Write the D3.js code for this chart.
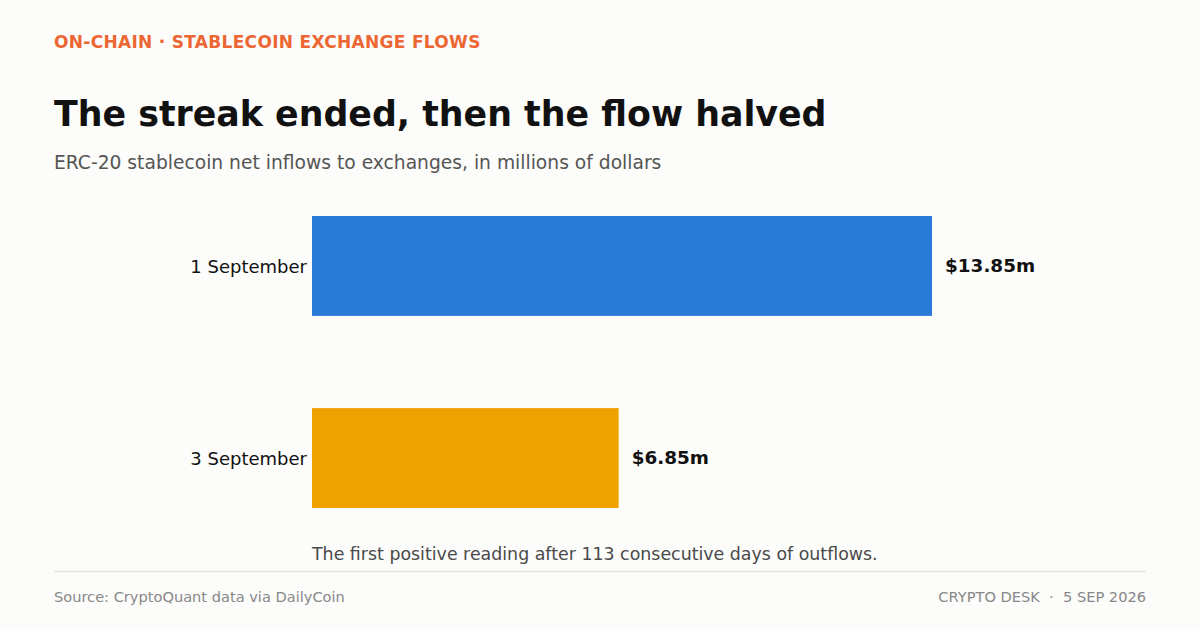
<!DOCTYPE html>
<html>
<head>
<meta charset="utf-8">
<script src="https://cdn.jsdelivr.net/npm/d3@7"></script>
<style>
  html, body { margin: 0; padding: 0; background: #fcfcfa; }
  svg { display: block; font-family: "DejaVu Sans", sans-serif; }
</style>
</head>
<body>
<svg id="chart" width="1200" height="630"></svg>
<script>
const categories = ["1 September", "3 September"];
const values = [13.85, 6.85];
const valueLabels = ["$13.85m", "$6.85m"];
const barColors = ["#2979d6", "#eea200"];

const kicker = "ON-CHAIN · STABLECOIN EXCHANGE FLOWS";
const title = "The streak ended, then the flow halved";
const subtitle = "ERC-20 stablecoin net inflows to exchanges, in millions of dollars";
const note = "The first positive reading after 113 consecutive days of outflows.";
const source = "Source: CryptoQuant data via DailyCoin";
const credit = "CRYPTO DESK  ·  5 SEP 2026";

const W = 1200, H = 630;
const svg = d3.select("#chart");
svg.append("rect").attr("width", W).attr("height", H).attr("fill", "#fcfcfa");

svg.append("text").attr("x", 54).attr("y", 48)
  .attr("fill", "#ec6633").attr("font-size", 17).attr("font-weight", "bold")
  .attr("letter-spacing", 0.3)
  .text(kicker);

svg.append("text").attr("x", 54).attr("y", 126)
  .attr("fill", "#111").attr("font-size", 34.8).attr("font-weight", "bold")
  .text(title);

svg.append("text").attr("x", 54).attr("y", 169)
  .attr("fill", "#555").attr("font-size", 18.7)
  .text(subtitle);

const x = d3.scaleLinear().domain([0, d3.max(values)]).range([312, 932]);
const y = d3.scaleBand().domain(categories).range([216, 508]).paddingInner(0.48).paddingOuter(0);

const g = svg.append("g");
g.selectAll("rect.bar").data(categories).join("rect")
  .attr("class", "bar")
  .attr("x", x(0))
  .attr("y", d => y(d))
  .attr("width", (d, i) => x(values[i]) - x(0))
  .attr("height", y.bandwidth())
  .attr("fill", (d, i) => barColors[i]);

const yAxis = d3.axisLeft(y).tickSize(0).tickPadding(5);
const ag = svg.append("g").attr("transform", `translate(${x(0)},0)`).call(yAxis);
ag.select(".domain").remove();
ag.selectAll("text").attr("font-size", 18).attr("fill", "#111")
  .attr("font-family", "DejaVu Sans, sans-serif").attr("dy", "0.4em");

g.selectAll("text.val").data(categories).join("text")
  .attr("class", "val")
  .attr("x", (d, i) => x(values[i]) + 13)
  .attr("y", d => y(d) + y.bandwidth() / 2)
  .attr("dy", "0.35em")
  .attr("font-size", 18.4).attr("font-weight", "bold").attr("fill", "#111")
  .text((d, i) => valueLabels[i]);

svg.append("text").attr("x", 312).attr("y", 560)
  .attr("fill", "#4a4a4a").attr("font-size", 17.4)
  .text(note);

svg.append("line").attr("x1", 54).attr("x2", 1146).attr("y1", 571.5).attr("y2", 571.5)
  .attr("stroke", "#e2e2de").attr("stroke-width", 1.5);

svg.append("text").attr("x", 54).attr("y", 602)
  .attr("fill", "#888").attr("font-size", 14.6)
  .text(source);

svg.append("text").attr("x", 1146).attr("y", 602)
  .attr("text-anchor", "end").attr("xml:space", "preserve").style("white-space", "pre")
  .attr("fill", "#888").attr("font-size", 14.6)
  .text(credit);
</script>
</body>
</html>
